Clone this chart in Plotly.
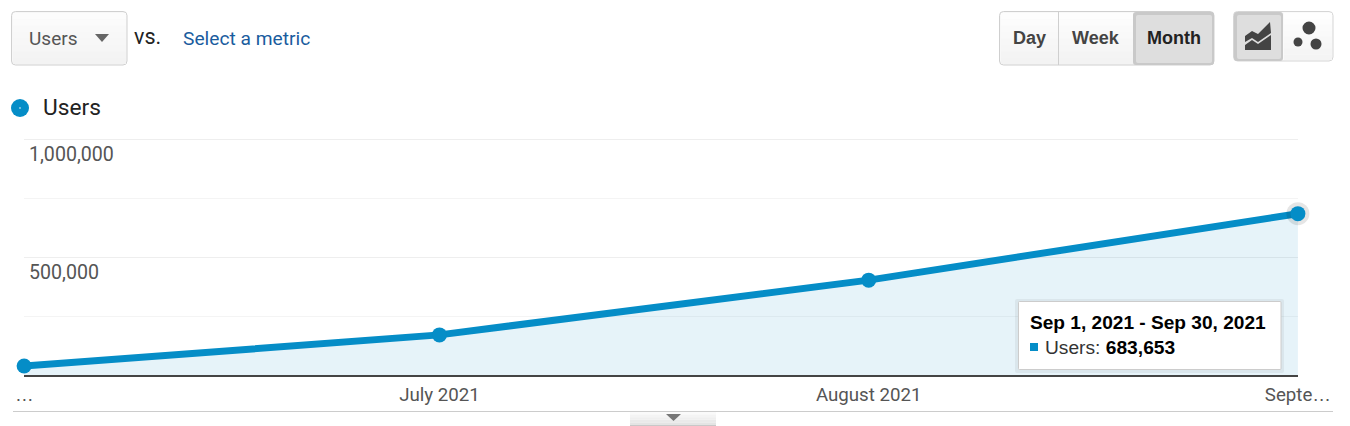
import plotly.graph_objects as go

# Data
dates = ["2021-06-01", "2021-07-01", "2021-08-01", "2021-09-01"]
users = [38000, 170000, 402000, 683653]
series_name = "Users"
ELL = "<span style='font-family:Liberation Sans'>…</span>"
x_tick_labels = [ELL, "July 2021", "August 2021", "Septe" + ELL]
y_major_vals = [0, 500000, 1000000]
y_major_labels = ["", "500,000", "1,000,000"]

W, H = 1350, 426
L, R, T, B = 24, 1298, 139, 375
BLUE = "#058DC7"
FONT = "Roboto"


def px(x):
    return (x - L) / (R - L)


def py(y):
    return (B - y) / (B - T)


def rrect_path(x0, y0, x1, y1, r):
    a0, a1 = px(x0), px(x1)
    b0, b1 = py(y0), py(y1)
    rx, ry = r / (R - L), r / (B - T)
    return (f"M{a0+rx},{b0} L{a1-rx},{b0} Q{a1},{b0} {a1},{b0-ry} L{a1},{b1+ry} "
            f"Q{a1},{b1} {a1-rx},{b1} L{a0+rx},{b1} Q{a0},{b1} {a0},{b1+ry} "
            f"L{a0},{b0-ry} Q{a0},{b0} {a0+rx},{b0} Z")


def poly_path(points):
    return "M" + " L".join(f"{px(x)},{py(y)}" for x, y in points) + " Z"


shapes = []


def rect(x0, y0, x1, y1, fill, line=None, r=0, lw=1):
    s = dict(type="path", xref="paper", yref="paper", path=rrect_path(x0, y0, x1, y1, r) if r else
             poly_path([(x0, y0), (x1, y0), (x1, y1), (x0, y1)]),
             fillcolor=fill, line=dict(color=line or "rgba(0,0,0,0)", width=lw if line else 0))
    shapes.append(s)


def gradient(x0, y0, x1, y1, top, bottom, n=8):
    # vertical shading of a button face in a few bands
    for i in range(n):
        t = i / (n - 1)
        v = round(top + (bottom - top) * t)
        rect(x0, y0 + (y1 - y0) * i / n, x1, y0 + (y1 - y0) * (i + 1) / n, f"rgb({v},{v},{v})")


def circle(cx, cy, r, fill):
    shapes.append(dict(type="circle", xref="paper", yref="paper", x0=px(cx - r), x1=px(cx + r),
                       y0=py(cy + r), y1=py(cy - r), fillcolor=fill, line=dict(width=0)))


def poly(points, fill):
    shapes.append(dict(type="path", xref="paper", yref="paper", path=poly_path(points),
                       fillcolor=fill, line=dict(width=0)))


def hline(x0, x1, y, color, w=1, layer="above"):
    shapes.append(dict(type="line", xref="paper", yref="paper", x0=px(x0), x1=px(x1), y0=py(y), y1=py(y),
                       layer=layer, line=dict(color=color, width=w)))


def vline(x, y0, y1, color, w=1):
    shapes.append(dict(type="line", xref="paper", yref="paper", x0=px(x), x1=px(x), y0=py(y0), y1=py(y1),
                       line=dict(color=color, width=w)))


annotations = []


def text(x, y, s, size, color, anchor="left", family=FONT):
    annotations.append(dict(xref="paper", yref="paper", x=px(x), y=py(y), text=s, showarrow=False,
                            xanchor=anchor, yanchor="middle", align=anchor, borderpad=0, borderwidth=0,
                            font=dict(family=family, size=size, color=color)))


# Top grid line sits on the plot edge
hline(24, 1298, 139.5, "#eeeeee", layer="below")

# First x label: Plotly hides it next to inside y labels, so it is placed at the same height as the others
text(24.5, 394, x_tick_labels[0], 18.7, "#555555", "center")

# Metric dropdown
rect(11.5, 11.5, 127, 65, "#f7f7f7", "#d0d0d0", 4)
gradient(13, 13, 126, 64, 252, 243)
poly([(95, 34), (109, 34), (102, 42)], "#666666")
text(29, 38, "Users", 19, "#555555")
text(134, 36, "vs.", 21.5, "#222222")
text(183, 38, "Select a metric", 19.2, "#1a5c9e")

# Period buttons
rect(999.5, 11.5, 1214, 65, "#f8f8f8", "#cfcfcf", 4)
gradient(1001, 13, 1213, 64, 253, 243)
vline(1058.5, 12, 65, "#cfcfcf")
rect(1133, 12, 1214, 65, "#c9c9c9", None, 3)
rect(1136, 15, 1212, 63, "#dedede", None, 2)
text(1029, 38, "<b>Day</b>", 18, "#444444", "center", "Liberation Sans")
text(1095.5, 38, "<b>Week</b>", 18, "#444444", "center", "Liberation Sans")
text(1173.5, 38, "<b>Month</b>", 18, "#222222", "center", "Liberation Sans")

# Chart type buttons
rect(1233.5, 11.5, 1333, 61, "#fafafa", "#d6d6d6", 4)
gradient(1284, 13, 1332, 60, 254, 244)
rect(1234, 12, 1283, 61, "#c9c9c9", None, 3)
rect(1237, 15, 1281, 59, "#dedede", None, 2)
poly([(1245, 36), (1252, 31), (1258, 34), (1270, 22), (1271, 33), (1258, 42), (1252, 38), (1245, 42)], "#444444")
poly([(1245, 45), (1252, 40), (1258, 44), (1271, 35), (1271, 50), (1245, 50)], "#444444")
circle(1309, 28, 6.5, "#444444")
circle(1298, 42, 4.5, "#444444")
circle(1316, 44, 5.5, "#444444")

# Legend
circle(20, 108, 9, BLUE)
circle(20, 108, 0.8, "#ffffff")
text(43, 108, series_name, 22.7, "#222222")

# Footer
hline(13, 1333, 411.5, "#cccccc")
gradient(630, 412, 716, 425, 250, 228, n=5)
hline(630, 716, 425.5, "#c8c8c8")
poly([(666, 414), (681, 414), (673.5, 421)], "#777777")

# Tooltip
rect(1015, 299, 1284, 373, "rgba(0,0,0,0.05)", None, 2)
rect(1018.5, 301.5, 1281, 369.5, "#ffffff", "#cccccc", 1)
rect(1030, 343, 1038, 351, BLUE)
text(1030, 322.5, "<b>Sep 1, 2021 - Sep 30, 2021</b>", 19.1, "#000000", family="Liberation Sans")
text(1045, 347.5, "Users: <b style='color:#000'>683,653</b>", 19.2, "#333333", family="Liberation Sans")

fig = go.Figure()
fig.add_trace(go.Scatter(x=dates, y=users, mode="lines", fill="tozeroy", fillcolor="rgba(5,141,199,0.1)",
                         line=dict(color=BLUE, width=7), hoverinfo="skip", showlegend=False))
fig.add_trace(go.Scatter(x=dates[-1:], y=users[-1:], mode="markers", cliponaxis=False,
                         marker=dict(color="rgba(0,0,0,0.10)", size=23), hoverinfo="skip", showlegend=False))
fig.add_trace(go.Scatter(x=dates, y=users, mode="markers", cliponaxis=False, name=series_name,
                         marker=dict(color=BLUE, size=15), hoverinfo="skip", showlegend=False))

fig.update_layout(
    width=W, height=H, autosize=False, paper_bgcolor="#ffffff", plot_bgcolor="#ffffff",
    margin=dict(l=L, r=W - R, t=T, b=H - B, pad=0),
    showlegend=False, shapes=shapes, annotations=annotations,
    xaxis=dict(type="date", range=["2021-05-31 23:50", "2021-09-01 00:10"], tickmode="array", tickvals=dates,
               ticktext=x_tick_labels,
               showgrid=False, ticks="", showline=True, linecolor="#444444", linewidth=2, zeroline=False,
               tickfont=dict(family=FONT, size=18.7, color="#555555"), ticklabelstandoff=2,
               automargin=False),
    yaxis=dict(range=[0, 1000000], tickmode="array", tickvals=y_major_vals, ticktext=y_major_labels,
               ticklabelposition="inside bottom", ticks="", showline=False, zeroline=False,
               gridcolor="#eeeeee", gridwidth=1, tickfont=dict(family=FONT, size=19.6, color="#555555"),
               ticklabelstandoff=2, ticklabelshift=1, automargin=False,
               minor=dict(tickmode="array", tickvals=[250000, 750000], showgrid=True, gridcolor="#f4f4f4", gridwidth=1, ticks="")),
)

fig.write_html("out.html", config=dict(displayModeBar=False),
               post_script="document.body.style.margin='0';document.body.style.overflow='hidden';")
